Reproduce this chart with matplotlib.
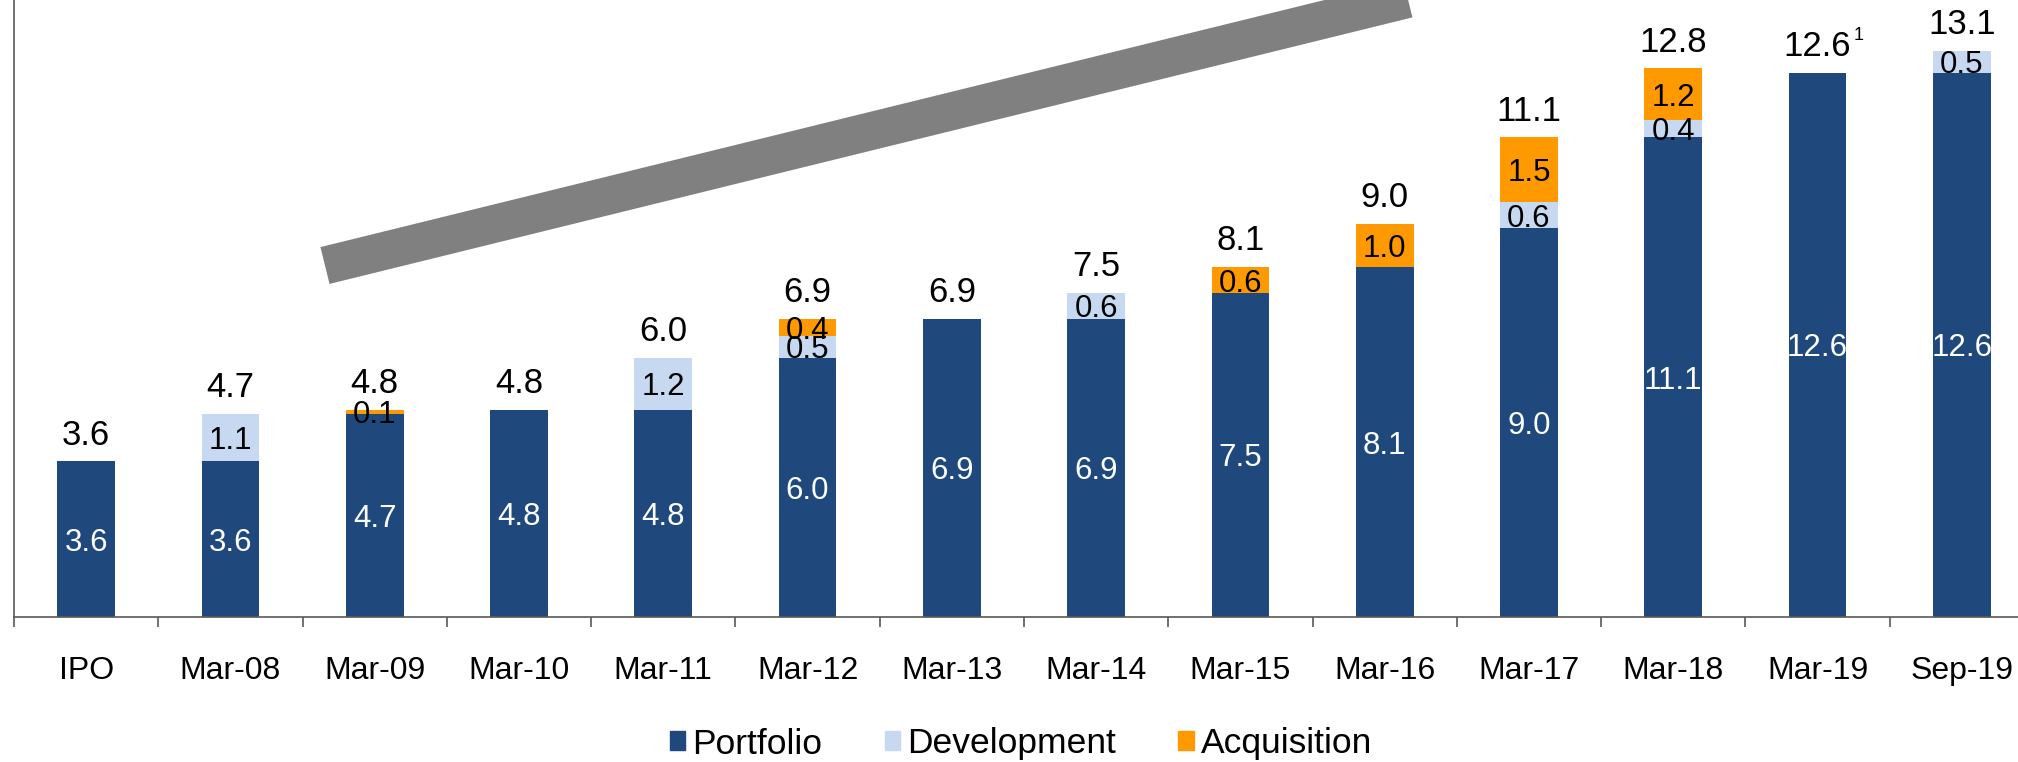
import matplotlib
matplotlib.use("Agg")
import matplotlib.pyplot as plt
from matplotlib.lines import Line2D
from matplotlib.patches import Patch
import numpy as np

plt.rcParams['font.family'] = ['Liberation Sans', 'DejaVu Sans']

# ===============================
# data
# ===============================
categories = ["IPO", "Mar-08", "Mar-09", "Mar-10", "Mar-11", "Mar-12", "Mar-13",
              "Mar-14", "Mar-15", "Mar-16", "Mar-17", "Mar-18", "Mar-19", "Sep-19"]
portfolio = [3.6, 3.6, 4.7, 4.8, 4.8, 6.0, 6.9, 6.9, 7.5, 8.1, 9.0, 11.1, 12.6, 12.6]
development = [0, 1.1, 0, 0, 1.2, 0.5, 0, 0.6, 0, 0, 0.6, 0.4, 0, 0.5]
acquisition = [0, 0, 0.1, 0, 0, 0.4, 0, 0, 0.6, 1.0, 1.5, 1.2, 0, 0]
totals = [3.6, 4.7, 4.8, 4.8, 6.0, 6.9, 6.9, 7.5, 8.1, 9.0, 11.1, 12.8, 12.6, 13.1]
footnote_idx = 12

c_port = "#1F497D"
c_dev = "#C6D9F1"
c_acq = "#FF9900"

# ===============================
# figure
# ===============================
fig = plt.figure(figsize=(20.18, 7.62), dpi=100)
ax = fig.add_axes([14 / 2018, 1 - 617 / 762, 2020 / 2018, 617 / 762])

x = np.arange(len(categories))
port = np.array(portfolio)
dev = np.array(development)
acq = np.array(acquisition)

w = 0.4
ax.bar(x, port, w, color=c_port, linewidth=0, label="Portfolio")
ax.bar(x, dev, w, bottom=port, color=c_dev, linewidth=0, label="Development")
ax.bar(x, acq, w, bottom=port + dev, color=c_acq, linewidth=0, label="Acquisition")

# segment labels
seg_fs = 22.5
for i in range(len(x)):
    ax.text(x[i], port[i] / 2, f"{port[i]:.1f}", ha="center", va="center_baseline",
            color="white", fontsize=seg_fs)
    if dev[i] > 0:
        ax.text(x[i], port[i] + dev[i] / 2, f"{dev[i]:.1f}", ha="center",
                va="center_baseline", color="black", fontsize=seg_fs)
    if acq[i] > 0:
        ax.text(x[i], port[i] + dev[i] + acq[i] / 2, f"{acq[i]:.1f}", ha="center",
                va="center_baseline", color="black", fontsize=seg_fs)

# totals above the bars
for i in range(len(x)):
    top = port[i] + dev[i] + acq[i]
    t = ax.annotate(f"{totals[i]:.1f}", xy=(x[i], top), xytext=(0, 7),
                    textcoords="offset points", ha="center", va="bottom",
                    fontsize=25, color="black")
    if i == footnote_idx:
        ax.annotate("1", xy=(1, 1), xycoords=t, xytext=(2, 2),
                    textcoords="offset points", ha="left", va="top",
                    fontsize=13, color="black")

# gray trend band
fig.add_artist(Line2D([325 / 2018, 1607 / 2018], [1 - 265.5 / 762, 1 + 50 / 762],
                      color="#808080", linewidth=27.3, solid_capstyle="butt"))

# axes styling
ax.set_xlim(-0.5, len(categories) - 0.5)
ax.set_ylim(0, 617 / 43.2)
for s in ["top", "right"]:
    ax.spines[s].set_visible(False)
ax.spines["left"].set_color("#595959")
ax.spines["bottom"].set_color("#595959")
ax.spines["left"].set_linewidth(1.2)
ax.spines["bottom"].set_linewidth(1.2)
ax.set_yticks([])
ax.set_xticks(x)
ax.set_xticklabels(categories, fontsize=23)
ax.tick_params(axis="x", which="major", length=0, pad=28)
ax.set_xticks(np.arange(-0.5, len(categories)), minor=True)
ax.tick_params(axis="x", which="minor", length=7.5, width=1.2, color="#595959",
               direction="out")

handles = [Patch(color=c_port), Patch(color=c_dev), Patch(color=c_acq)]
fig.legend(handles, ["Portfolio", "Development", "Acquisition"], loc="center",
           bbox_to_anchor=(0.506, 1 - 744 / 762), ncol=3, frameon=False,
           fontsize=25.5, handlelength=0.45, handleheight=0.45, handletextpad=0.2,
           columnspacing=1.75, borderpad=0)

fig.savefig("out.png", dpi=100)
